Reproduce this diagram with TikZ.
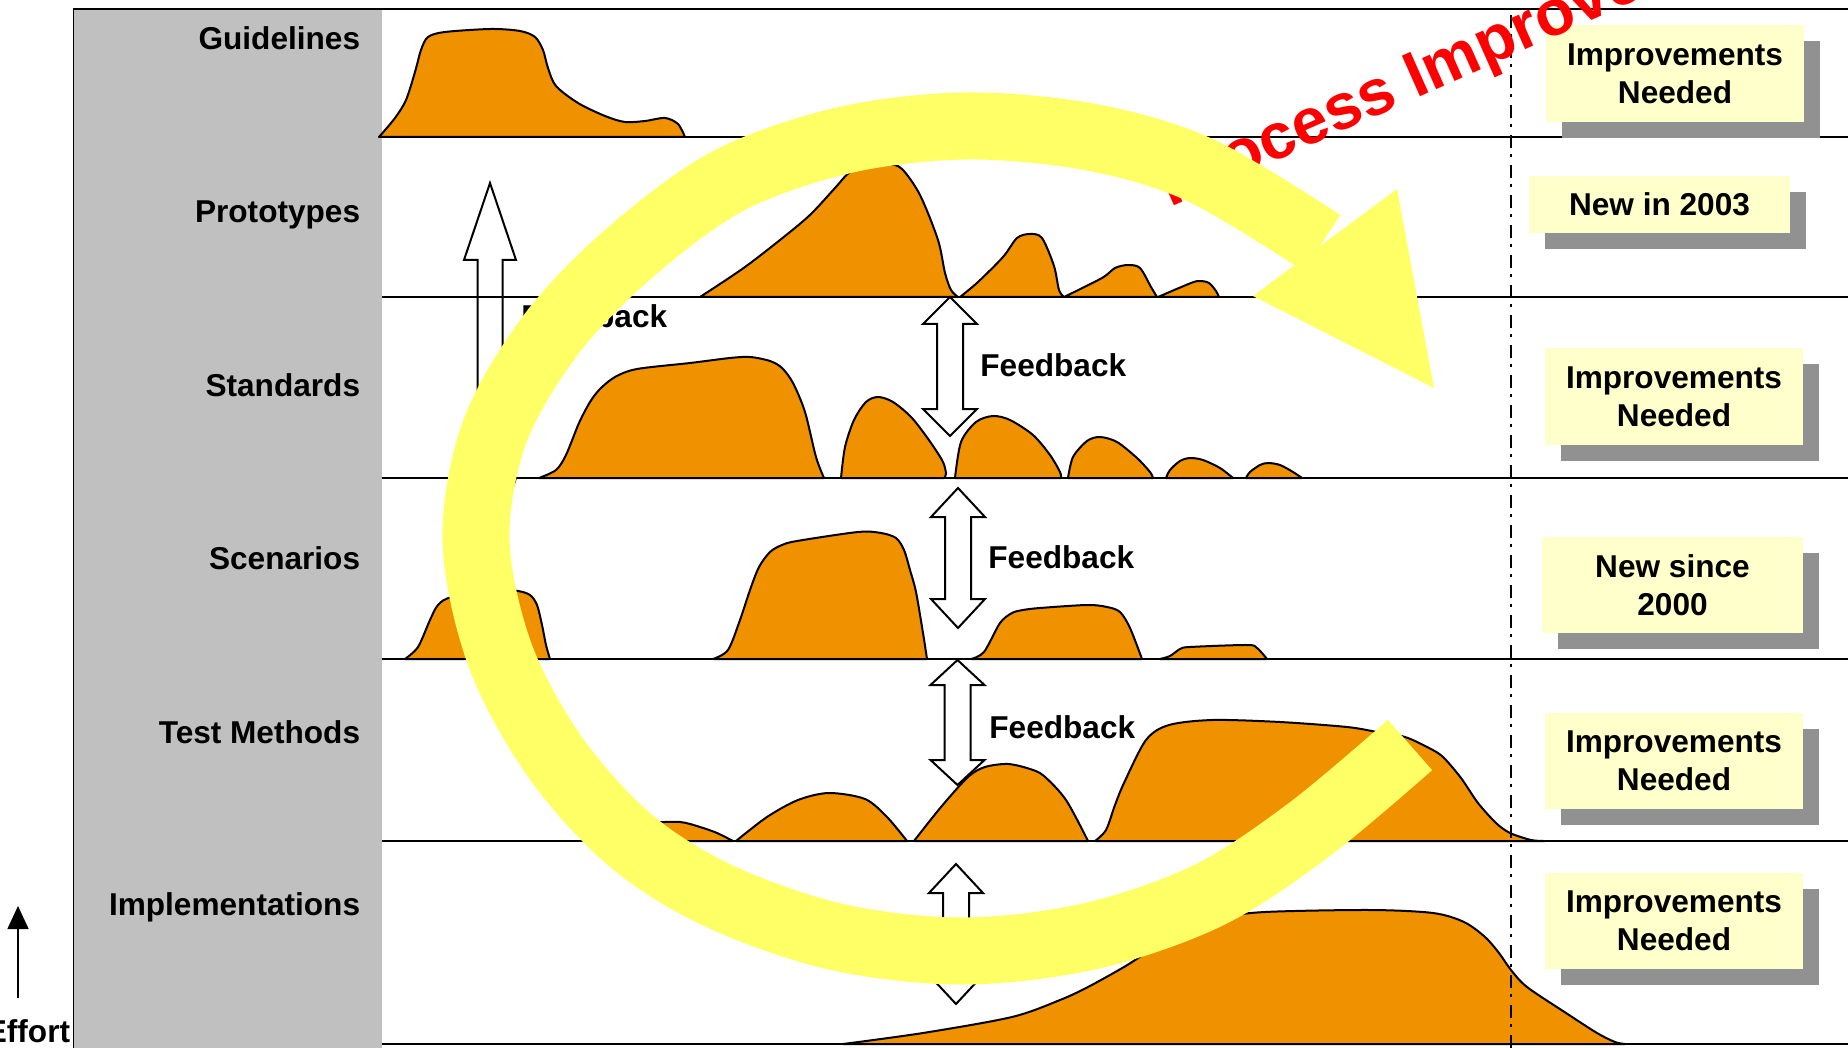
\documentclass[tikz,border=0pt]{standalone}
\usepackage{fontspec}
\setmainfont{Liberation Sans}
\definecolor{panelgray}{RGB}{192,192,192}
\definecolor{humporange}{RGB}{240,145,0}
\definecolor{ringyellow}{RGB}{255,255,102}
\definecolor{notefill}{RGB}{255,255,204}
\definecolor{noteshadow}{RGB}{145,145,145}
\tikzset{
  humpshape/.style={fill=humporange, draw=black, line width=1pt, line join=round},
  rowline/.style={line width=1pt},
  lbl/.style={font=\fontsize{15.8}{19}\selectfont\bfseries, inner sep=0pt},
  hollow/.style={fill=white, draw=black, line width=1pt, line join=miter},
  notebox/.style={fill=notefill, draw=none},
  noteshade/.style={fill=noteshadow, draw=none},
  ring/.style={draw=ringyellow, line width=33.5pt},
  redtxt/.style={font=\fontsize{32.3}{38}\selectfont\bfseries, text=red, inner sep=0pt},
}
% x, ytop, ybottom, head length, head half width, shaft half width
\newcommand\dblarrow[6]{%
  \draw[hollow] (#1,#2) -- (#1+#5,#2+#4) -- (#1+#6,#2+#4) -- (#1+#6,#3-#4) -- (#1+#5,#3-#4) -- (#1,#3)
    -- (#1-#5,#3-#4) -- (#1-#6,#3-#4) -- (#1-#6,#2+#4) -- (#1-#5,#2+#4) -- cycle;}
% name, x1, y1, x2, y2, text
\newcommand\stickynote[6]{%
  \fill[noteshade] (#2+16,#3+16) rectangle (#4+16,#5+16);
  \fill[notebox] (#2,#3) rectangle (#4,#5);
  \node[lbl, align=center] (#1) at ({(#2+#4)/2},{(#3+#5)/2}) {#6};}
\begin{document}
\begin{tikzpicture}[x=0.5pt, y=-0.5pt]
\useasboundingbox (0,0) rectangle (1848,1048);
\fill[white] (0,0) rectangle (1848,1048);
% gray label panel
\fill[panelgray] (73.7,9) rectangle (381.7,1048);
\draw[line width=0.6pt] (73.7,1048) -- (73.7,9) -- (381.7,9);

% ---- orange effort curves ----
% Guidelines
\filldraw[humpshape] plot[smooth, tension=.5] coordinates {(379,137) (395,118) (406,100) (415,72) (421,50) (428,37) (445,32) (491,29) (520,31) (535,37) (543,50) (548,68) (556,86) (578,103) (605,116) (625,122) (645,121) (665,118) (678,124) (685,137)} -- cycle;
% Prototypes
\filldraw[humpshape] plot[smooth, tension=.5] coordinates {(700,297) (745,267) (790,232) (812,213) (835,188) (850,172) (868,166) (888,164) (902,169) (920,195) (938,240) (945,273) (951,290) (958,297)} -- cycle;
\filldraw[humpshape] plot[smooth, tension=.5] coordinates {(960,297) (978,282) (1003,257) (1017,238) (1030,234) (1042,238) (1054,266) (1059,290) (1064,297)} -- cycle;
\filldraw[humpshape] plot[smooth, tension=.5] coordinates {(1064,297) (1102,278) (1115,268) (1128,265) (1140,268) (1151,287) (1157,297)} -- cycle;
\filldraw[humpshape] plot[smooth, tension=.5] coordinates {(1158,297) (1191,283) (1200,281) (1209,283) (1216,291) (1219,297)} -- cycle;
% Standards
\filldraw[humpshape] plot[smooth, tension=.5] coordinates {(539,478) (556,470) (566,455) (579,423) (590,402) (600,389) (615,377) (637,369) (690,363) (730,358) (750,357) (770,361) (782,368) (793,383) (805,412) (816,457) (824,478)} -- cycle;
\filldraw[humpshape] plot[smooth, tension=.5] coordinates {(841,478) (845,447) (854,420) (866,402) (878,397) (893,402) (912,418) (931,443) (943,462) (946,474) (944,478)} -- cycle;
\filldraw[humpshape] plot[smooth, tension=.5] coordinates {(955,478) (961,442) (976,422) (993,416) (1010,420) (1033,435) (1050,455) (1060,472) (1061,478)} -- cycle;
\filldraw[humpshape] plot[smooth, tension=.5] coordinates {(1068,478) (1073,457) (1087,441) (1100,437) (1117,442) (1137,458) (1150,472) (1153,478)} -- cycle;
\filldraw[humpshape] plot[smooth, tension=.5] coordinates {(1166,478) (1170,470) (1180,461) (1190,458) (1203,460) (1220,468) (1233,478)} -- cycle;
\filldraw[humpshape] plot[smooth, tension=.5] coordinates {(1246,478) (1250,472) (1260,465) (1268,463) (1280,465) (1293,472) (1302,478)} -- cycle;
% Scenarios
\filldraw[humpshape] plot[smooth, tension=.5] coordinates {(405,659) (418,647) (430,620) (438,605) (452,597) (500,590) (518,591) (530,595) (537,605) (542,625) (546,645) (550,659)} -- cycle;
\filldraw[humpshape] plot[smooth, tension=.5] coordinates {(713,659) (728,650) (740,620) (750,590) (759,567) (770,552) (782,545) (797,541) (858,532) (881,533) (896,538) (904,550) (910,570) (916,592) (923,633) (927,659)} -- cycle;
\filldraw[humpshape] plot[smooth, tension=.5] coordinates {(971,659) (984,652) (1000,623) (1012,613) (1023,610) (1040,608) (1087,605) (1107,607) (1120,612) (1130,628) (1142,659)} -- cycle;
\filldraw[humpshape] plot[smooth, tension=.5] coordinates {(1160,659) (1170,656) (1180,649) (1190,647) (1247,645) (1257,648) (1267,659)} -- cycle;
% Test Methods
\filldraw[humpshape] plot[smooth, tension=.5] coordinates {(587,841) (596,836) (620,828) (650,823) (680,822) (700,827) (717,833) (733,841)} -- cycle;
\filldraw[humpshape] plot[smooth, tension=.5] coordinates {(736,841) (767,817) (798,800) (829,793) (865,799) (887,817) (907,841)} -- cycle;
\filldraw[humpshape] plot[smooth, tension=.5] coordinates {(914,841) (941,807) (968,777) (985,767) (1008,764) (1030,769) (1044,776) (1066,800) (1088,841)} -- cycle;
\filldraw[humpshape] plot[smooth, tension=.5] coordinates {(1095,841) (1106,830) (1115,805) (1124,783) (1146,740) (1169,725) (1213,720) (1280,722) (1347,727) (1377,732) (1405,737) (1429,748) (1443,757) (1461,778) (1478,803) (1496,823) (1510,833) (1531,840) (1545,841)} -- cycle;
% Implementations
\filldraw[humpshape] plot[smooth, tension=.5] coordinates {(843,1044) (923,1033) (1012,1017) (1060,1000) (1088,987) (1124,967) (1146,953) (1180,933) (1220,918) (1265,912) (1370,910) (1433,913) (1464,922) (1485,937) (1499,953) (1511,970) (1527,987) (1566,1013) (1597,1033) (1615,1042) (1625,1044)} -- cycle;

% long feedback arrow (behind the row lines)
\dblarrow{490}{183}{555}{77}{26}{12.5}

% row lines
\draw[line width=1.3pt] (381.7,9) -- (1848,9);
\foreach \yy in {137,297,478,659,841,1044}
  \draw[rowline] (381.7,\yy) -- (1848,\yy);
% dash-dot milestone line
\draw[line width=0.85pt, dash pattern=on 6.5pt off 3pt on 1.5pt off 4pt] (1511,15) -- (1511,1048);

% feedback arrows
\dblarrow{950}{297}{436}{27}{27}{13}
\dblarrow{958}{488}{628}{29}{27}{13}
\dblarrow{957.5}{660}{785}{25}{27}{13}
\dblarrow{956}{864}{1004}{29}{27}{13}

% row labels
\node[lbl, anchor=base east] (guide) at (360.5,50) {Guidelines};
\node[lbl, anchor=base east] (proto) at (360.5,223) {Prototypes};
\node[lbl, anchor=base east] (stand) at (360.5,396) {Standards};
\node[lbl, anchor=base east] (scen) at (360.5,569) {Scenarios};
\node[lbl, anchor=base east] (test) at (360.5,743) {Test Methods};
\node[lbl, anchor=base east] (impl) at (360.5,915) {Implementations};

% feedback labels
\node[lbl, anchor=base west] (fbA) at (521,328) {Feedback};
\node[lbl, anchor=base west] (fbB) at (980,377) {Feedback};
\node[lbl, anchor=base west] (fbC) at (988,568) {Feedback};
\node[lbl, anchor=base west] (fbD) at (989,738) {Feedback};

% status notes
\stickynote{n1}{1546}{25}{1804}{122}{Improvements\\Needed}
\stickynote{n2}{1529}{176}{1790}{233}{New in 2003}
\stickynote{n3}{1545}{348}{1803}{445}{Improvements\\Needed}
\stickynote{n4}{1542}{537}{1803}{633}{New since\\2000}
\stickynote{n5}{1545}{713}{1803}{809}{Improvements\\Needed}
\stickynote{n6}{1545}{873}{1803}{969}{Improvements\\Needed}

% red title
\node[redtxt, rotate=24, anchor=base west] (procimp) at (1170,208) {Process Improvements};

% yellow improvement cycle
\draw[ring] plot[smooth, tension=.55] coordinates {(1410,745) (1310,829) (1209,895) (1091,936) (964,951) (837,937) (719,896) (630,840) (555,757) (500,655) (476,540) (495,431) (553,332) (633,250) (730,180) (845,140) (966,126) (1090,137) (1200,170) (1322,243)};
\fill[ringyellow] (1253,296) -- (1397,189) -- (1434,388) -- cycle;

% effort axis
\draw[line width=1.25pt] (18,998) -- (18,926);
\fill (18,906) -- (28.7,929) -- (7.3,929) -- cycle;
\node[lbl, anchor=base east] (effort) at (70.5,1042) {Effort};
\end{tikzpicture}
\end{document}
